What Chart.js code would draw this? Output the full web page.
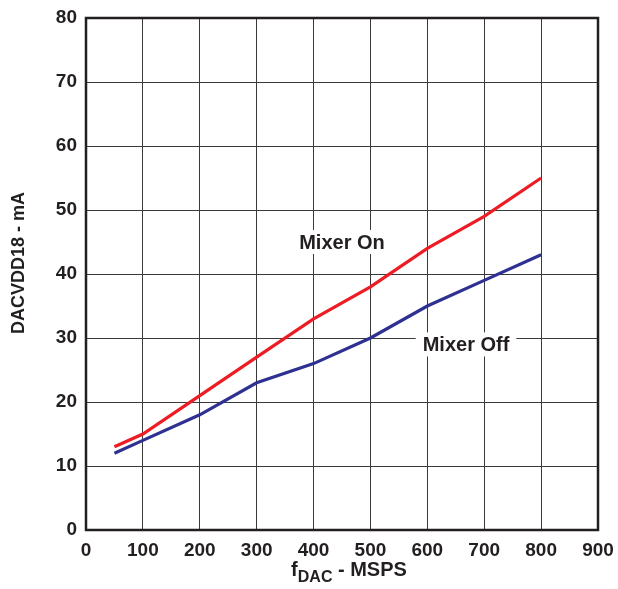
<!DOCTYPE html>
<html>
<head>
<meta charset="utf-8">
<script src="https://cdn.jsdelivr.net/npm/chart.js@4/dist/chart.umd.min.js"></script>
<style>
  html, body { margin: 0; padding: 0; background: #fff; }
  #wrap { width: 618px; height: 589px; }
</style>
</head>
<body>
<div id="wrap"><canvas id="c"></canvas></div>
<script>
// sample rates (MSPS)
const fDac = [50, 100, 200, 300, 400, 500, 600, 700, 800];
const mixerOn = [13, 15, 21, 27, 33, 38, 44, 49, 55];
const mixerOff = [12, 14, 18, 23, 26, 30, 35, 39, 43];
const seriesNames = ["Mixer On", "Mixer Off"];
// where the in-plot labels sit (data units)
const labelSpots = [{ x: 450, y: 45 }, { x: 668, y: 29 }];

const FONT = "'Liberation Sans', Arial, sans-serif";

const toPts = (xs, ys) => xs.map((x, i) => ({ x: x, y: ys[i] }));

// box, in-plot labels and axis titles
const decor = {
  id: 'decor',
  afterDatasetsDraw(chart) {
    const { ctx, chartArea: a, scales } = chart;
    ctx.save();
    ctx.strokeStyle = '#231f20';
    ctx.lineWidth = 2.5;
    ctx.strokeRect(a.left, a.top, a.right - a.left, a.bottom - a.top);

    ctx.font = 'bold 20px ' + FONT;
    ctx.textAlign = 'center';
    ctx.textBaseline = 'middle';
    seriesNames.forEach((name, i) => {
      const px = scales.x.getPixelForValue(labelSpots[i].x);
      const py = scales.y.getPixelForValue(labelSpots[i].y);
      const w = ctx.measureText(name).width;
      ctx.fillStyle = '#fff';
      ctx.fillRect(px - w / 2 - 7, py - 12, w + 14, 24);
      ctx.fillStyle = '#231f20';
      ctx.fillText(name, px, py + 1);
    });

    // y title
    ctx.save();
    ctx.translate(19, 263);
    ctx.rotate(-Math.PI / 2);
    ctx.font = 'bold 18px ' + FONT;
    ctx.fillText('DACVDD18 - mA', 0, 0);
    ctx.restore();

    // x title with subscript
    const big = 'bold 20px ' + FONT, small = 'bold 16px ' + FONT;
    ctx.font = big; const wF = ctx.measureText('f').width;
    const wRest = ctx.measureText(' - MSPS').width;
    ctx.font = small; const wSub = ctx.measureText('DAC').width;
    let x0 = 349 - (wF + wSub + wRest) / 2;
    const by = 576;
    ctx.textAlign = 'left';
    ctx.textBaseline = 'alphabetic';
    ctx.font = big; ctx.fillText('f', x0, by);
    ctx.font = small; ctx.fillText('DAC', x0 + wF, by + 6);
    ctx.font = big; ctx.fillText(' - MSPS', x0 + wF + wSub, by);
    ctx.restore();
  }
};

new Chart(document.getElementById('c'), {
  type: 'line',
  data: {
    datasets: [
      { label: seriesNames[0], data: toPts(fDac, mixerOn), borderColor: '#ed1c24', borderWidth: 3.2, pointRadius: 0, tension: 0 },
      { label: seriesNames[1], data: toPts(fDac, mixerOff), borderColor: '#2e3192', borderWidth: 3.2, pointRadius: 0, tension: 0 }
    ]
  },
  options: {
    responsive: true,
    maintainAspectRatio: false,
    animation: false,
    layout: { autoPadding: false, padding: { top: 18, right: 20, left: 0, bottom: 0 } },
    plugins: { legend: { display: false }, tooltip: { enabled: false } },
    scales: {
      x: {
        type: 'linear', min: 0, max: 900,
        afterFit: s => { s.height = 59; s.paddingLeft = 0; s.paddingRight = 0; },
        grid: { color: '#3a3a3a', lineWidth: 1, drawTicks: false },
        border: { display: false },
        ticks: { stepSize: 100, padding: 9, color: '#231f20', font: { family: FONT, size: 19, weight: 'bold' } }
      },
      y: {
        min: 0, max: 80,
        afterFit: s => { s.width = 86; s.paddingTop = 0; s.paddingBottom = 0; },
        grid: { color: '#3a3a3a', lineWidth: 1, drawTicks: false },
        border: { display: false },
        ticks: { stepSize: 10, padding: 9, color: '#231f20', font: { family: FONT, size: 19, weight: 'bold' } }
      }
    }
  },
  plugins: [decor]
});
</script>
</body>
</html>
